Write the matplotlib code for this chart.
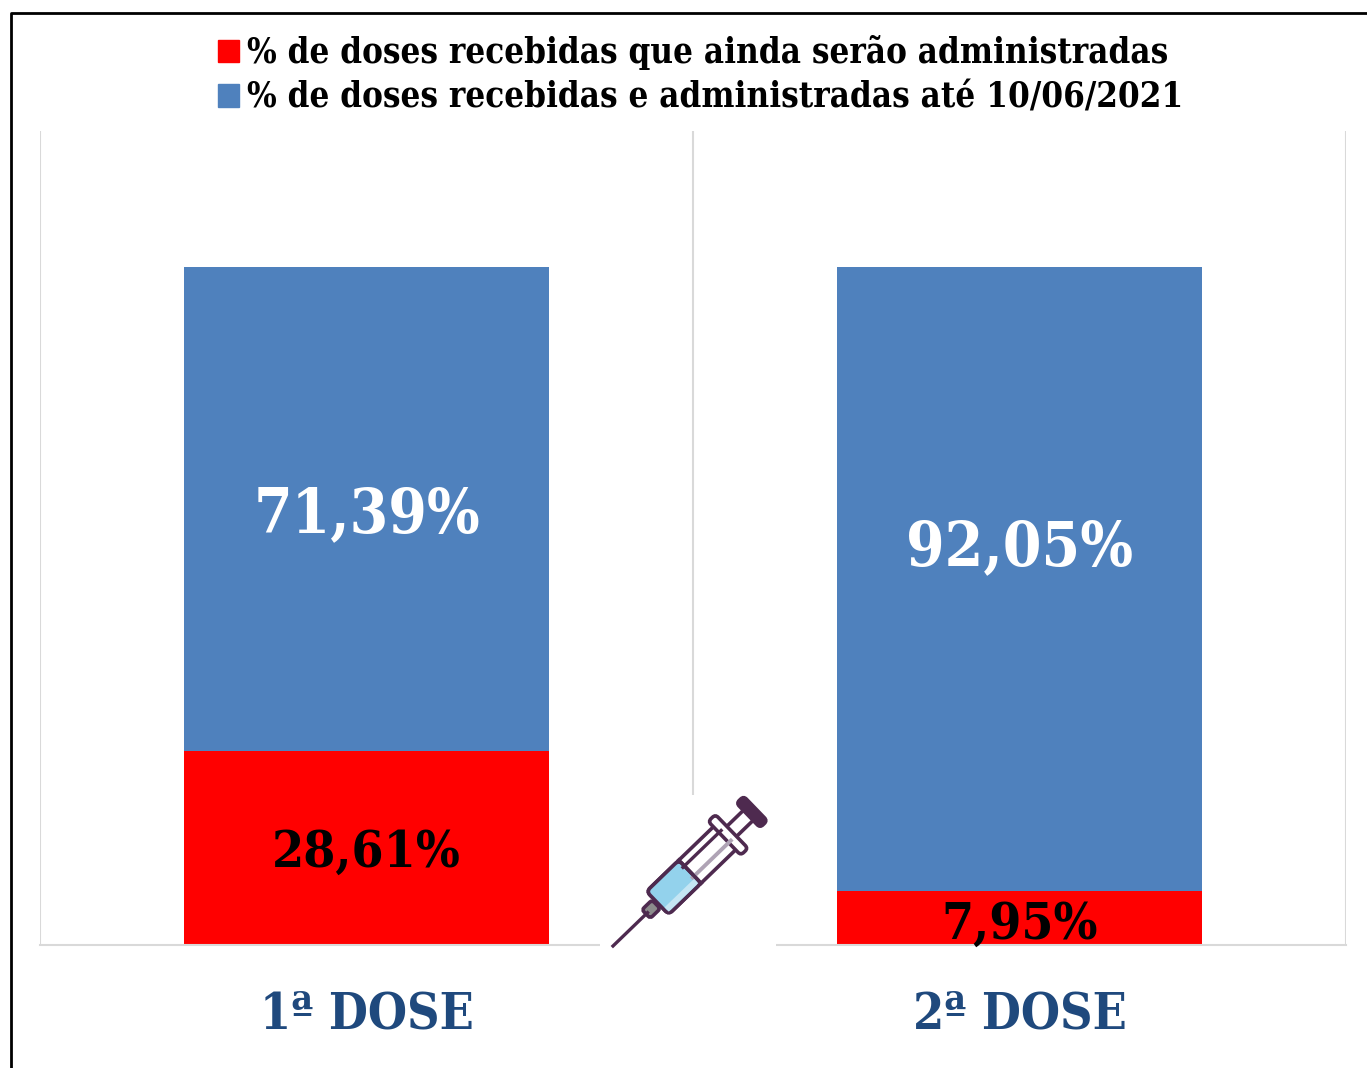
import matplotlib
matplotlib.use('Agg')
import matplotlib.pyplot as plt
from matplotlib.patches import Rectangle, FancyBboxPatch, Patch
from matplotlib.transforms import Affine2D

W, H = 1367, 1068
RED = '#FF0000'
BLUE = '#4F81BD'
GRID = '#D9D9D9'
INK = '#4E2A4F'

categories = ['1ª DOSE', '2ª DOSE']
pending = [28.61, 7.95]
administered = [71.39, 92.05]
pending_labels = ['28,61%', '7,95%']
administered_labels = ['71,39%', '92,05%']
legend_labels = ['% de doses recebidas que ainda serão administradas',
                 '% de doses recebidas e administradas até 10/06/2021']

plt.rcParams['font.family'] = ['DejaVu Serif']
plt.rcParams['font.stretch'] = 'condensed'
plt.rcParams['font.weight'] = 'bold'

fig = plt.figure(figsize=(W / 100, H / 100), dpi=100)

# main chart
ax = fig.add_axes([40 / W, 1 - 945 / H, (1346 - 40) / W, (945 - 131) / H])
x = range(len(categories))
ax.bar(x, pending, width=0.559, color=RED, zorder=2)
ax.bar(x, administered, bottom=pending, width=0.559, color=BLUE, zorder=2)
ax.set_xlim(-0.5, 1.5)
ax.set_ylim(0, 120)
ax.set_yticks([])
ax.set_xticks(list(x))
ax.set_xticklabels(categories, fontsize=36, color='#1F497D')
ax.tick_params(axis='x', length=0, pad=33)
ax.set_xticks([-0.5, 0.5, 1.5], minor=True)
ax.tick_params(axis='x', which='minor', length=0)
ax.grid(True, axis='x', which='minor', color=GRID, lw=1.5, zorder=0)
for s in ['top', 'right', 'left']:
    ax.spines[s].set_visible(False)
ax.spines['bottom'].set_color(GRID)
ax.spines['bottom'].set_linewidth(1.5)

# labels sit a bit off the segment centres in the original
ax.text(0, 13.5, pending_labels[0], ha='center', va='center', fontsize=37, color='black', zorder=3)
ax.text(1, 2.9, pending_labels[1], ha='center', va='center', fontsize=37, color='black', zorder=3)
ax.text(0, 63.3, administered_labels[0], ha='center', va='center', fontsize=44.5, color='white', zorder=3)
ax.text(1, 58.5, administered_labels[1], ha='center', va='center', fontsize=44.5, color='white', zorder=3)

fig.legend(handles=[Patch(color=RED), Patch(color=BLUE)], labels=legend_labels,
           loc='upper left', bbox_to_anchor=(218 / W, 1 - 35 / H), frameon=False,
           fontsize=25, handlelength=0.6, handleheight=0.6, handletextpad=0.23,
           labelspacing=0.31, borderpad=0, borderaxespad=0)

# overlay in pixel coordinates: frame and syringe icon
ov = fig.add_axes([0, 0, 1, 1], zorder=5)
ov.set_xlim(0, W)
ov.set_ylim(H, 0)
ov.axis('off')
ov.plot([11, 11, W], [H, 13, 13], color='black', lw=2)
ov.add_patch(Rectangle((600, 795), 176, 152, color='white', lw=0))

rot = Affine2D().rotate_deg(-44).translate(613, 946) + ov.transData


def box(u0, u1, half, fc, round_=1.5, lw=2.6, ec=INK):
    ov.add_patch(FancyBboxPatch((u0, -half), u1 - u0, 2 * half,
                                boxstyle=f'round,pad=0,rounding_size={round_}',
                                fc=fc, ec=ec, lw=lw, transform=rot))


ov.plot([0, 48], [0, 0], color=INK, lw=2.4, transform=rot)
box(46, 60, 6, '#8C8C8C', round_=3)
box(160, 190, 7, 'white', round_=0.5)
box(62, 160, 16, 'white', round_=5)
box(62, 107, 16, '#93D2EC', round_=5)
ov.add_patch(Rectangle((64, 8), 41, 6, color='#C5E6F4', lw=0, transform=rot))
ov.plot([105, 158], [6, 6], color='#AFA3B5', lw=2.8, transform=rot)
ov.plot([105, 158], [-8, -8], color=INK, lw=2.4, transform=rot)
ov.plot([107, 107], [-16, 16], color=INK, lw=2.6, transform=rot)
box(155, 165, 23.5, 'white', round_=4)
box(188, 198, 17, INK, round_=4)

fig.savefig('out.png', dpi=100)
